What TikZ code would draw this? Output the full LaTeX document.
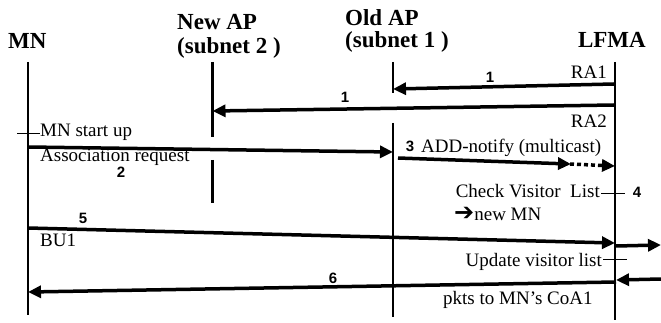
\documentclass[tikz,border=0pt]{standalone}
\usepackage{fontspec}
\setmainfont{Liberation Serif}
\newfontfamily\numfont{Liberation Sans}
\newfontfamily\symfont{DejaVu Sans}
\usetikzlibrary{arrows.meta}
\begin{document}
\begin{tikzpicture}[x=1pt,y=-1pt,
  head/.style={font=\bfseries\fontsize{23}{21}\selectfont, inner sep=0pt, align=left},
  txt/.style={font=\fontsize{19}{20}\selectfont, inner sep=0pt},
  num/.style={font=\numfont\bfseries\fontsize{15}{15}\selectfont, inner sep=0pt, anchor=base},
  life/.style={line width=2.5pt},
  msg/.style={line width=3.5pt, -{Triangle[length=13pt,width=12pt]}, shorten >=-1pt},
  tick/.style={line width=0.8pt}]
\useasboundingbox (0,0) rectangle (661,323);
% headers
\node[head, anchor=base west] (hMN) at (8,49) {MN};
\node[head, anchor=base west] (hNew) at (177,30) {New AP};
\node[head, anchor=base west] (hNew2) at (177,54) {(subnet 2 )};
\node[head, anchor=base west] (hOld) at (345,26) {Old AP};
\node[head, anchor=base west] (hOld2) at (345,48) {(subnet 1 )};
\node[head, anchor=base east] (hLF) at (646,48) {LFMA};
% lifelines
\coordinate (mnT) at (28,62); \coordinate (mnB) at (28,315);
\coordinate (naT) at (212.5,62); \coordinate (naM) at (212.5,137);
\coordinate (naM2) at (212.5,160); \coordinate (naB) at (212.5,203);
\coordinate (oaT) at (393,62); \coordinate (oaM) at (393,93);
\coordinate (oaM2) at (393,123); \coordinate (oaB) at (393,317);
\coordinate (lfT) at (615,62); \coordinate (lfB) at (615,320);
\draw[life] (mnT) -- (mnB);
\draw[life] (naT) -- (naM);
\draw[life] (naM2) -- (naB);
\draw[life] (oaT) -- (oaM);
\draw[life] (oaM2) -- (oaB);
\draw[life] (lfT) -- (lfB);
% message end points
\coordinate (ra1s) at (614,84); \coordinate (ra1e) at (394,89);
\coordinate (ra2s) at (614,105); \coordinate (ra2e) at (213.5,111);
\coordinate (ars) at (28,147); \coordinate (are) at (392,152);
\coordinate (ads) at (398,158); \coordinate (adm) at (570,164); \coordinate (ade) at (614,166);
\coordinate (bus) at (28,228); \coordinate (bue) at (614,243);
\coordinate (bxs) at (616,246); \coordinate (bxe) at (660,245);
\coordinate (ins) at (661,279); \coordinate (ine) at (617,280);
\coordinate (sxs) at (616,282); \coordinate (sxe) at (29,292);
% messages
\draw[msg] (ra1s) -- (ra1e);
\draw[msg] (ra2s) -- (ra2e);
\draw[msg] (ars) -- (are);
\draw[msg] (ads) -- (adm);
\draw[msg, dash pattern=on 4pt off 3pt] (adm) -- (ade);
\draw[msg] (bus) -- (bue);
\draw[msg] (bxs) -- (bxe);
\draw[msg] (ins) -- (ine);
\draw[msg] (sxs) -- (sxe);
% ticks
\coordinate (t1a) at (17,133); \coordinate (t1b) at (40,133);
\coordinate (t4a) at (601,193); \coordinate (t4b) at (625,193);
\coordinate (tua) at (603,259); \coordinate (tub) at (627,259);
\draw[tick] (t1a) -- (t1b);
\draw[tick] (t4a) -- (t4b);
\draw[tick] (tua) -- (tub);
% labels
\node[num] (n1a) at (490,83) {1};
\node[txt, anchor=base east] (lra1) at (607,79) {RA1};
\node[num] (n1b) at (345,103) {1};
\node[txt, anchor=base east] (lra2) at (607,128) {RA2};
\node[txt, anchor=base west] (lstart) at (40,137) {MN start up};
\node[txt, anchor=base west] (lassoc) at (40,162) {Association request};
\node[num] (n2) at (121,178) {2};
\node[num] (n3) at (410,152) {3};
\node[txt, anchor=base west] (ladd) at (421,153) {ADD-notify (multicast)};
\node[txt, anchor=base east] (lcheck) at (600,198) {Check Visitor\ \ List};
\node[num] (n4) at (637,198) {4};
\node[txt, anchor=base west] (lnew) at (454,220) {{\symfont\bfseries\fontsize{24}{19}\selectfont ➔}new MN};
\node[num] (n5) at (83,223) {5};
\node[txt, anchor=base west] (lbu) at (40,247) {BU1};
\node[txt, anchor=base east] (lupd) at (602,266) {Update visitor list};
\node[num] (n6) at (333,283) {6};
\node[txt, anchor=base west] (lpkt) at (443,304) {pkts to MN’s CoA1};
\end{tikzpicture}
\end{document}
